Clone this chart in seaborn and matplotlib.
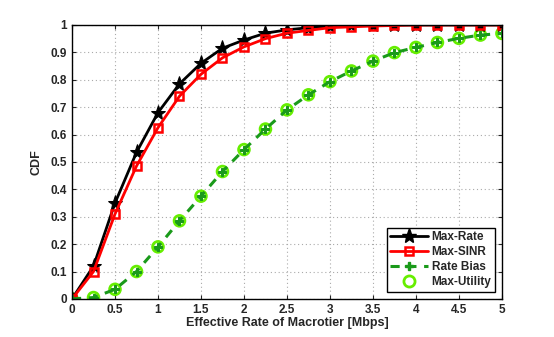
import numpy as np
import pandas as pd
import seaborn as sns
import matplotlib.pyplot as plt
from matplotlib.lines import Line2D

rate = [0, 0.25, 0.5, 0.75, 1, 1.25, 1.5, 1.75, 2, 2.25, 2.5, 2.75, 3, 3.25, 3.5, 3.75, 4, 4.25, 4.5, 4.75, 5]
max_rate = [0, 0.12, 0.35, 0.535, 0.68, 0.785, 0.86, 0.915, 0.945, 0.97, 0.982, 0.99, 0.995, 0.998, 1, 1, 1, 1, 1, 1, 1]
max_sinr = [0, 0.10, 0.31, 0.485, 0.625, 0.74, 0.82, 0.88, 0.92, 0.95, 0.97, 0.98, 0.99, 0.993, 0.996, 0.998, 1, 1, 1, 1, 1]
rate_bias = [0, 0.005, 0.035, 0.10, 0.19, 0.285, 0.375, 0.465, 0.545, 0.62, 0.69, 0.745, 0.793, 0.832, 0.868, 0.899, 0.918, 0.936, 0.951, 0.963, 0.969]
max_utility = rate_bias

sns.set_style("white")
plt.rcParams['font.family'] = ['Liberation Sans', 'DejaVu Sans']
plt.rcParams['font.weight'] = 'bold'

fig = plt.figure(figsize=(5.54, 3.37), dpi=100)
ax = fig.add_axes([0.130, 0.113, 0.776, 0.813])

df = pd.DataFrame({"rate": rate, "Max-Rate": max_rate, "Max-SINR": max_sinr,
                   "Rate Bias": rate_bias, "Max-Utility": max_utility})

green = "#1a9a1a"
lime = "#66ee00"

sns.lineplot(data=df, x="rate", y="Max-Rate", ax=ax, color="black", linewidth=2,
             marker="*", markersize=11, markeredgecolor="black", label="Max-Rate")
sns.lineplot(data=df, x="rate", y="Max-SINR", ax=ax, color="red", linewidth=2,
             marker="s", markersize=6, markerfacecolor="none", markeredgecolor="red",
             markeredgewidth=1.8, label="Max-SINR")
sns.lineplot(data=df, x="rate", y="Rate Bias", ax=ax, color=green, linewidth=2.2,
             linestyle=(0, (3, 2.5)), marker="P", markersize=6, markeredgecolor=green,
             label="Rate Bias")
sns.scatterplot(data=df, x="rate", y="Max-Utility", ax=ax, marker="o", s=60,
                facecolor="none", edgecolor=lime, linewidth=2, label="Max-Utility")

ax.set_xlim(0, 5)
ax.set_ylim(0, 1)
ax.set_xticks(np.arange(0, 5.01, 0.5))
ax.set_xticklabels(["0", "0.5", "1", "1.5", "2", "2.5", "3", "3.5", "4", "4.5", "5"])
ax.set_yticks(np.arange(0, 1.01, 0.1))
ax.set_yticklabels(["0", "0.1", "0.2", "0.3", "0.4", "0.5", "0.6", "0.7", "0.8", "0.9", "1"])
ax.tick_params(labelsize=8.5, direction="in", length=3, left=True, bottom=True, top=True, right=True)
ax.grid(True, linestyle=(0, (1, 2.5)), color="#aaaaaa", linewidth=0.8)
for s in ax.spines.values():
    s.set_color("black")
    s.set_linewidth(1)

ax.set_xlabel("Effective Rate of Macrotier [Mbps]", fontsize=9, fontweight="bold", labelpad=1)
ax.set_ylabel("CDF", fontsize=9, fontweight="bold", labelpad=6)

handles = [
    Line2D([], [], color="black", linewidth=2, marker="*", markersize=11),
    Line2D([], [], color="red", linewidth=2, marker="s", markersize=6,
           markerfacecolor="none", markeredgewidth=1.8),
    Line2D([], [], color=green, linewidth=2.2, linestyle=(0, (3, 2.5)), marker="P", markersize=6),
    Line2D([], [], color="none", marker="o", markersize=8, markerfacecolor="none",
           markeredgecolor=lime, markeredgewidth=2),
]
leg = ax.legend(handles, ["Max-Rate", "Max-SINR", "Rate Bias", "Max-Utility"],
                loc="lower right", fontsize=8.5, frameon=True, fancybox=False,
                edgecolor="black", framealpha=1, borderpad=0.3, labelspacing=0.25,
                handlelength=3.2, handletextpad=0.3, borderaxespad=0.6)
leg.get_frame().set_linewidth(1)

fig.savefig("out.png", dpi=100)
